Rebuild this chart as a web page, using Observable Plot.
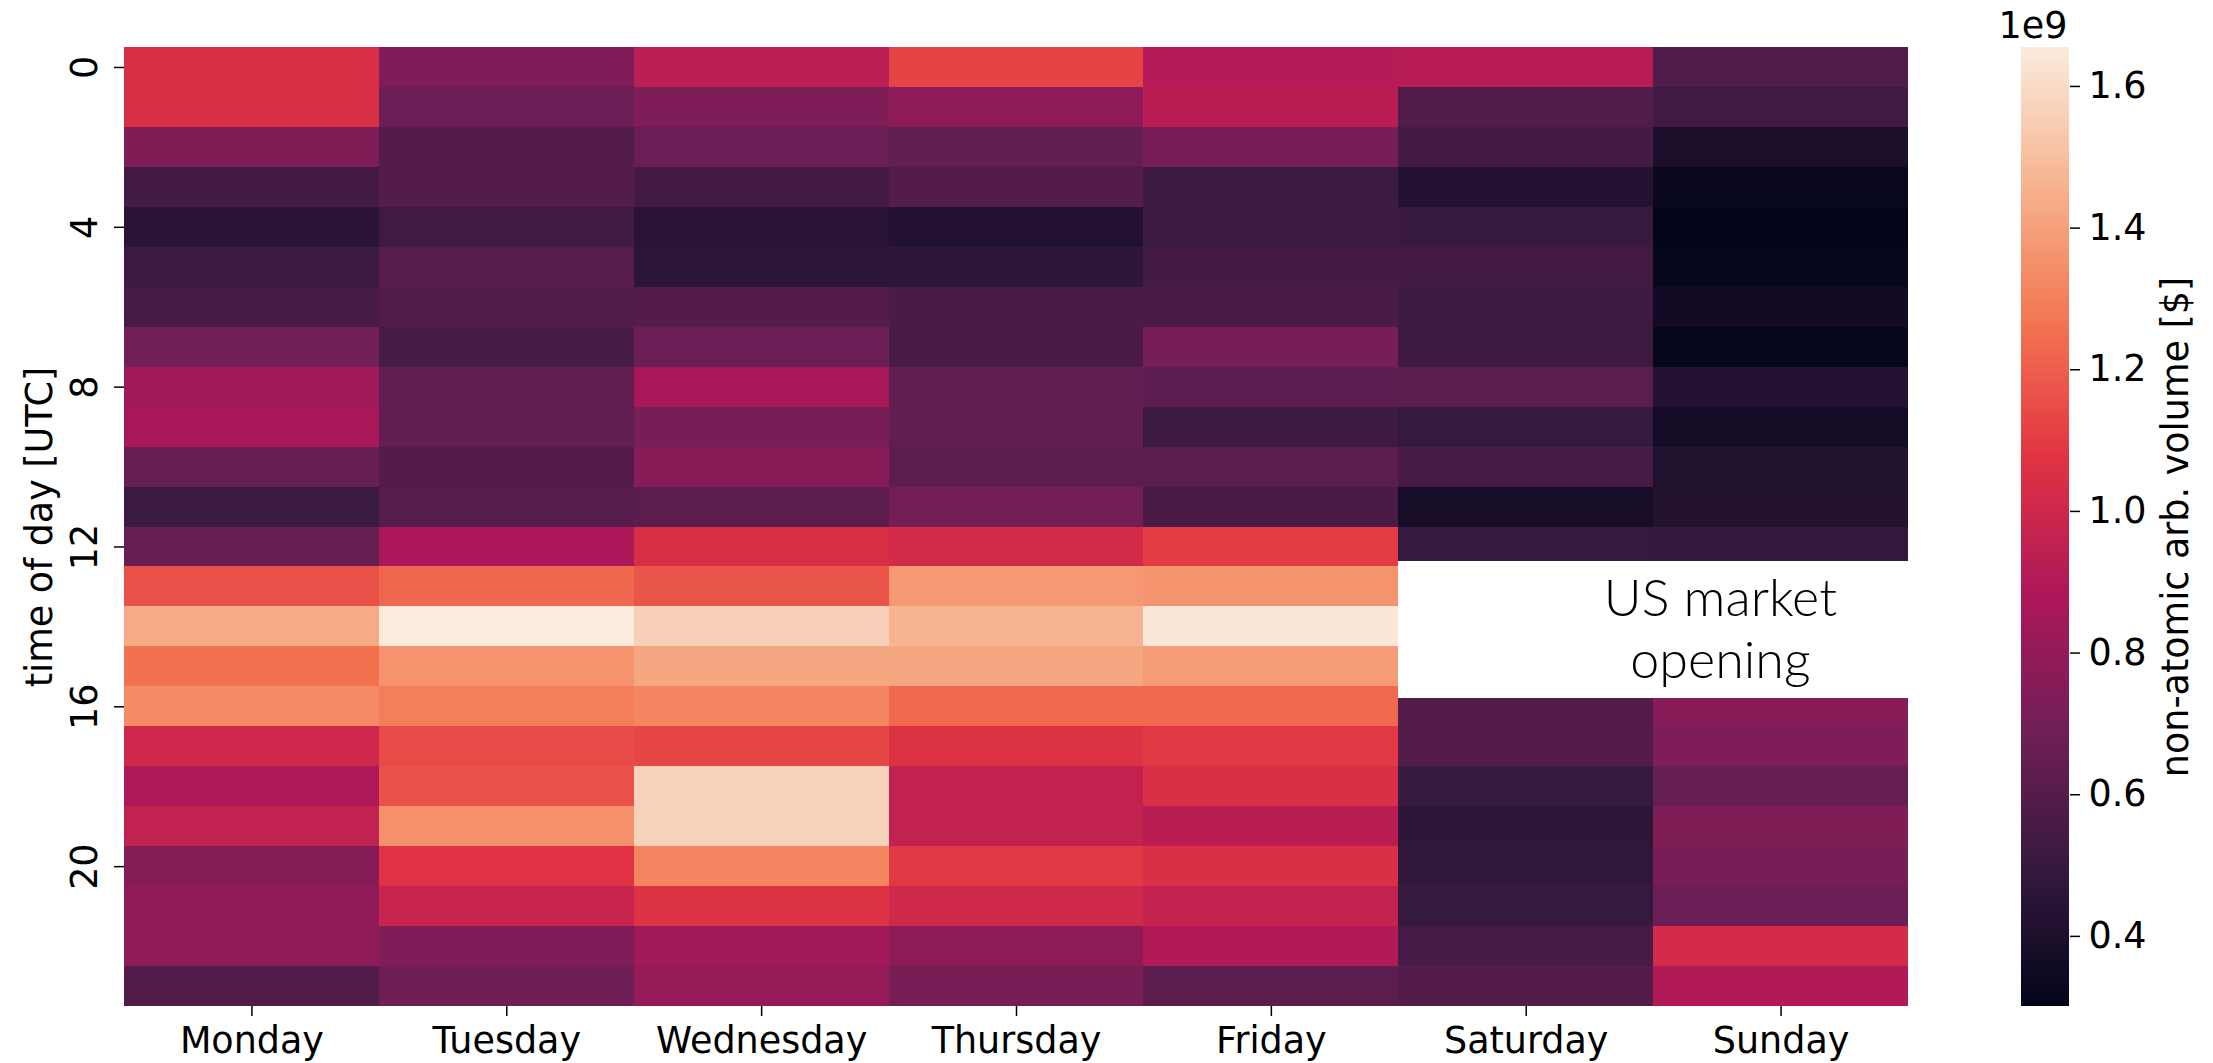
<!DOCTYPE html>
<html>
<head>
<meta charset="utf-8">
<script src="https://cdn.jsdelivr.net/npm/d3@7"></script>
<script src="https://cdn.jsdelivr.net/npm/@observablehq/plot@0.6"></script>
<style>
  html, body { margin: 0; padding: 0; background: #fff; }
  #wrap { position: relative; width: 2213px; height: 1063px; font-family: "DejaVu Sans", sans-serif; }
  #wrap svg { position: absolute; top: 0; }
</style>
</head>
<body>
<div id="wrap"></div>
<script>
// ---- data (non-atomic arbitrage volume, in units of 1e9 $) ----
const days = ["Monday", "Tuesday", "Wednesday", "Thursday", "Friday", "Saturday", "Sunday"];
const hours = [0,1,2,3,4,5,6,7,8,9,10,11,12,13,14,15,16,17,18,19,20,21,22,23];
const hourTicks = [0, 4, 8, 12, 16, 20];
const colorbarTicks = [0.4, 0.6, 0.8, 1.0, 1.2, 1.4, 1.6];

const monday    = [1.04, 1.04, 0.735, 0.543, 0.448, 0.518, 0.553, 0.698, 0.841, 0.866, 0.658, 0.515, 0.658, 1.158, 1.43, 1.258, 1.334, 1.0, 0.89, 0.96, 0.755, 0.785, 0.785, 0.59];
const tuesday   = [0.74, 0.669, 0.596, 0.596, 0.534, 0.6, 0.59, 0.55, 0.642, 0.642, 0.596, 0.6, 0.876, 1.224, 1.655, 1.358, 1.296, 1.14, 1.161, 1.353, 1.07, 0.978, 0.733, 0.681];
const wednesday = [0.93, 0.733, 0.67, 0.536, 0.448, 0.46, 0.593, 0.669, 0.866, 0.714, 0.762, 0.62, 1.04, 1.172, 1.56, 1.42, 1.32, 1.13, 1.57, 1.57, 1.315, 1.06, 0.844, 0.809];
const thursday  = [1.12, 0.78, 0.642, 0.593, 0.421, 0.465, 0.567, 0.567, 0.64, 0.64, 0.627, 0.7, 1.016, 1.373, 1.465, 1.421, 1.232, 1.06, 0.957, 0.957, 1.088, 1.005, 0.78, 0.714];
const friday    = [0.91, 0.926, 0.714, 0.518, 0.52, 0.545, 0.567, 0.714, 0.63, 0.52, 0.617, 0.56, 1.1, 1.361, 1.64, 1.386, 1.232, 1.088, 1.04, 0.926, 1.05, 0.965, 0.895, 0.62];
const saturday  = [0.92, 0.59, 0.545, 0.425, 0.504, 0.543, 0.52, 0.52, 0.62, 0.495, 0.55, 0.378, 0.494, null, null, null, 0.596, 0.596, 0.497, 0.463, 0.48, 0.495, 0.55, 0.593];
const sunday    = [0.59, 0.534, 0.397, 0.328, 0.301, 0.316, 0.363, 0.313, 0.425, 0.37, 0.414, 0.427, 0.49, null, null, null, 0.762, 0.733, 0.655, 0.735, 0.714, 0.669, 1.022, 0.895];

const colorDomain = [0.301, 1.655];   // colour-bar limits (1e9 $)

// annotation covering the weekend US-market-opening hours
const annotationBox = [{day1: 5, day2: 7, hour1: 12.87, hour2: 16.28}];
const annotationLines = [
  {text: "US market", day: 6.262, hour: 14.22},
  {text: "opening",   day: 6.262, hour: 15.79}
];

// seaborn "rocket" colormap stops
const rocketStops = ["#03051a", "#35193e", "#701f57", "#ad1759", "#e13342", "#f37651", "#f6b48f", "#faebdd"];
const rocket = d3.piecewise(d3.interpolateRgb, rocketStops);
const colorScale = {type: "linear", domain: colorDomain, interpolate: (t) => rocket(t)};

const series = [monday, tuesday, wednesday, thursday, friday, saturday, sunday];
const cells = days.flatMap((day, i) => hours.map((h) => ({day: i, hour: h, value: series[i][h]})))
  .filter((d) => d.value != null);

const FS = 36.5;
const font = "DejaVu Sans";
const thinFont = "Lato, 'DejaVu Sans', sans-serif";

const main = Plot.plot({
  width: 1960, height: 1063,
  marginLeft: 124, marginRight: 52, marginTop: 47, marginBottom: 57,
  style: {fontFamily: font, background: "none", overflow: "visible", color: "#000"},
  x: {domain: [0, days.length]},
  y: {domain: [0, hours.length], reverse: true},
  color: colorScale,
  marks: [
    Plot.rect(cells, {x1: "day", x2: (d) => d.day + 1, y1: "hour", y2: (d) => d.hour + 1, fill: "value", shapeRendering: "crispEdges"}),
    Plot.rect(annotationBox, {x1: "day1", x2: "day2", y1: "hour1", y2: "hour2", fill: "white", shapeRendering: "crispEdges"}),
    Plot.text(annotationLines, {x: "day", y: "hour", text: "text", fontSize: 52, fontWeight: 300, fontFamily: thinFont, lineAnchor: "bottom", textAnchor: "middle", fill: "#000"}),
    Plot.axisX(days.map((d, i) => i + 0.5), {anchor: "bottom", tickSize: 10, tickPadding: 11, strokeWidth: 1.5, fontSize: FS, tickFormat: (t) => days[Math.floor(t)], label: null}),
    Plot.axisY(hourTicks.map((h) => h + 0.5), {anchor: "left", tickSize: 10, tickPadding: 18, tickRotate: -90, strokeWidth: 1.5, fontSize: FS, tickFormat: (t) => String(Math.floor(t)), label: null}),
    Plot.text(["time of day [UTC]"], {frameAnchor: "left", dx: -73, rotate: -90, lineAnchor: "bottom", textAnchor: "middle", fontSize: FS, text: (d) => d, fill: "#000"})
  ]
});

const rampSteps = 400;
const ramp = d3.range(rampSteps).map((i) => {
  const a = colorDomain[0] + (colorDomain[1] - colorDomain[0]) * i / rampSteps;
  const b = colorDomain[0] + (colorDomain[1] - colorDomain[0]) * (i + 1) / rampSteps;
  return {y1: a, y2: b, v: (a + b) / 2};
});

const bar = Plot.plot({
  width: 253, height: 1063,
  marginLeft: 61, marginRight: 144, marginTop: 47, marginBottom: 57,
  style: {fontFamily: font, background: "none", overflow: "visible", color: "#000"},
  x: {domain: [0, 1], axis: null},
  y: {domain: colorDomain},
  color: colorScale,
  marks: [
    Plot.rect(ramp, {x1: () => 0, x2: () => 1, y1: "y1", y2: "y2", fill: "v", shapeRendering: "crispEdges"}),
    Plot.axisY(colorbarTicks, {anchor: "right", tickSize: 10, tickPadding: 9, strokeWidth: 1.5, fontSize: FS, tickFormat: (d) => d.toFixed(1), label: null}),
    Plot.text(["1e9"], {frameAnchor: "top-left", dx: -23, dy: -10, lineAnchor: "bottom", textAnchor: "start", fontSize: FS, text: (d) => d, fill: "#000"}),
    Plot.text(["non-atomic arb. volume [$]"], {frameAnchor: "right", dx: 118, rotate: -90, lineAnchor: "bottom", textAnchor: "middle", fontSize: FS, text: (d) => d, fill: "#000"})
  ]
});

const wrap = document.getElementById("wrap");
main.style.left = "0px";
bar.style.left = "1960px";
wrap.appendChild(main);
wrap.appendChild(bar);
</script>
</body>
</html>
